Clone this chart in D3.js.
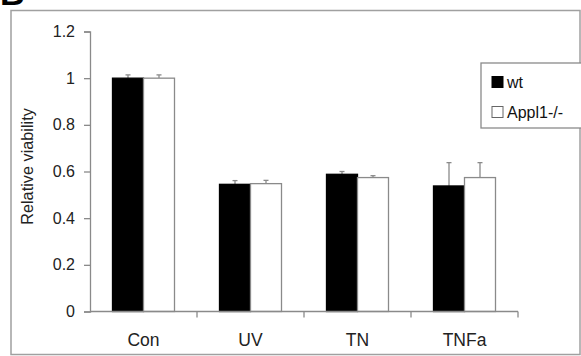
<!DOCTYPE html>
<html>
<head>
<meta charset="utf-8">
<script src="https://d3js.org/d3.v7.min.js"></script>
<style>
  body { margin: 0; background: #fff; }
  svg { display: block; font-family: "Liberation Sans", Arial, sans-serif; }
</style>
</head>
<body>
<svg width="581" height="356"></svg>
<script>
var categories = ["Con", "UV", "TN", "TNFa"];
var seriesNames = ["wt", "Appl1-/-"];
var wtValues = [1.0, 0.545, 0.588, 0.538];
var koValues = [1.0, 0.548, 0.574, 0.574];
var wtErrors = [0.014, 0.016, 0.012, 0.100];
var koErrors = [0.014, 0.014, 0.008, 0.064];
var yTicks = [0, 0.2, 0.4, 0.6, 0.8, 1, 1.2];

var svg = d3.select("svg");
var axisColor = "#8a8a8a";

// outer frame + cut-off panel letter
svg.append("rect").attr("x", 11).attr("y", 10.5).attr("width", 569).attr("height", 344)
  .attr("fill", "none").attr("stroke", "#a0a0a0").attr("stroke-width", 1.5);
svg.append("text").attr("x", 0).attr("y", 5).attr("font-size", 34).attr("font-weight", "bold").text("B");

var plotLeft = 90, plotRight = 518, plotTop = 31.5, plotBottom = 311.5;

var x = d3.scaleBand().domain(categories).range([plotLeft, plotRight]);
var y = d3.scaleLinear().domain([0, 1.2]).range([plotBottom, plotTop]);
var barW = 31;

var g = svg.append("g");

// bars
var rows = categories.map(function(c, i) {
  return [
    {cat: c, s: 0, v: wtValues[i], e: wtErrors[i]},
    {cat: c, s: 1, v: koValues[i], e: koErrors[i]}
  ];
}).flat();

function bx(d) { return x(d.cat) + x.bandwidth() / 2 - barW + d.s * barW; }

// error bars (upward only)
g.selectAll(".err").data(rows).enter().append("line")
  .attr("x1", function(d) { return bx(d) + barW / 2; })
  .attr("x2", function(d) { return bx(d) + barW / 2; })
  .attr("y1", function(d) { return y(d.v); })
  .attr("y2", function(d) { return y(d.v + d.e); })
  .attr("stroke", axisColor).attr("stroke-width", 1.3);
g.selectAll(".cap").data(rows).enter().append("line")
  .attr("x1", function(d) { return bx(d) + barW / 2 - 2.5; })
  .attr("x2", function(d) { return bx(d) + barW / 2 + 2.5; })
  .attr("y1", function(d) { return y(d.v + d.e); })
  .attr("y2", function(d) { return y(d.v + d.e); })
  .attr("stroke", axisColor).attr("stroke-width", 1.3);

g.selectAll(".bar").data(rows).enter().append("rect")
  .attr("x", bx)
  .attr("y", function(d) { return y(d.v); })
  .attr("width", barW)
  .attr("height", function(d) { return plotBottom - y(d.v); })
  .attr("fill", function(d) { return d.s === 0 ? "#000" : "#fff"; })
  .attr("stroke", function(d) { return d.s === 0 ? "#000" : axisColor; })
  .attr("stroke-width", 1.3);

// y axis
var yAxis = g.append("g").attr("transform", "translate(" + plotLeft + ",0)")
  .call(d3.axisLeft(y).tickValues(yTicks).tickSize(6).tickPadding(9)
    .tickFormat(function(d) { return String(+d.toFixed(1)); }));
yAxis.selectAll("path, line").attr("stroke", axisColor).attr("stroke-width", 1.3);
yAxis.selectAll("text").attr("font-size", 16).attr("fill", "#222")
  .attr("font-family", "Liberation Sans, Arial, sans-serif");

// x axis with ticks between categories
var xAxisG = g.append("g").attr("transform", "translate(0," + plotBottom + ")");
xAxisG.append("line").attr("x1", plotLeft).attr("x2", plotRight).attr("stroke", axisColor).attr("stroke-width", 1.3);
var bounds = categories.map(function(c) { return x(c) + x.bandwidth(); });
xAxisG.selectAll(".xt").data(bounds).enter().append("line")
  .attr("x1", function(d) { return d; }).attr("x2", function(d) { return d; })
  .attr("y1", 0).attr("y2", 6).attr("stroke", axisColor).attr("stroke-width", 1.3);
xAxisG.selectAll(".xl").data(categories).enter().append("text")
  .attr("x", function(d) { return x(d) + x.bandwidth() / 2; })
  .attr("y", 34).attr("text-anchor", "middle").attr("font-size", 17.5).attr("fill", "#222")
  .text(function(d) { return d; });

// y title
svg.append("text").attr("transform", "translate(33,166.5) rotate(-90)")
  .attr("text-anchor", "middle").attr("font-size", 16.3).attr("fill", "#222")
  .text("Relative viability");

// legend
var lg = svg.append("g");
lg.append("rect").attr("x", 481).attr("y", 63).attr("width", 120).attr("height", 65)
  .attr("fill", "#fff").attr("stroke", axisColor).attr("stroke-width", 1.3);
var items = lg.selectAll(".li").data(seriesNames).enter().append("g")
  .attr("transform", function(d, i) { return "translate(492," + (76.5 + i * 30) + ")"; });
items.append("rect").attr("width", 11).attr("height", 11)
  .attr("fill", function(d, i) { return i === 0 ? "#000" : "#fff"; })
  .attr("stroke", function(d, i) { return i === 0 ? "#000" : "#666"; }).attr("stroke-width", 1);
items.append("text").attr("x", 15).attr("y", 11).attr("font-size", 16).attr("fill", "#111")
  .text(function(d) { return d; });
</script>
</body>
</html>
